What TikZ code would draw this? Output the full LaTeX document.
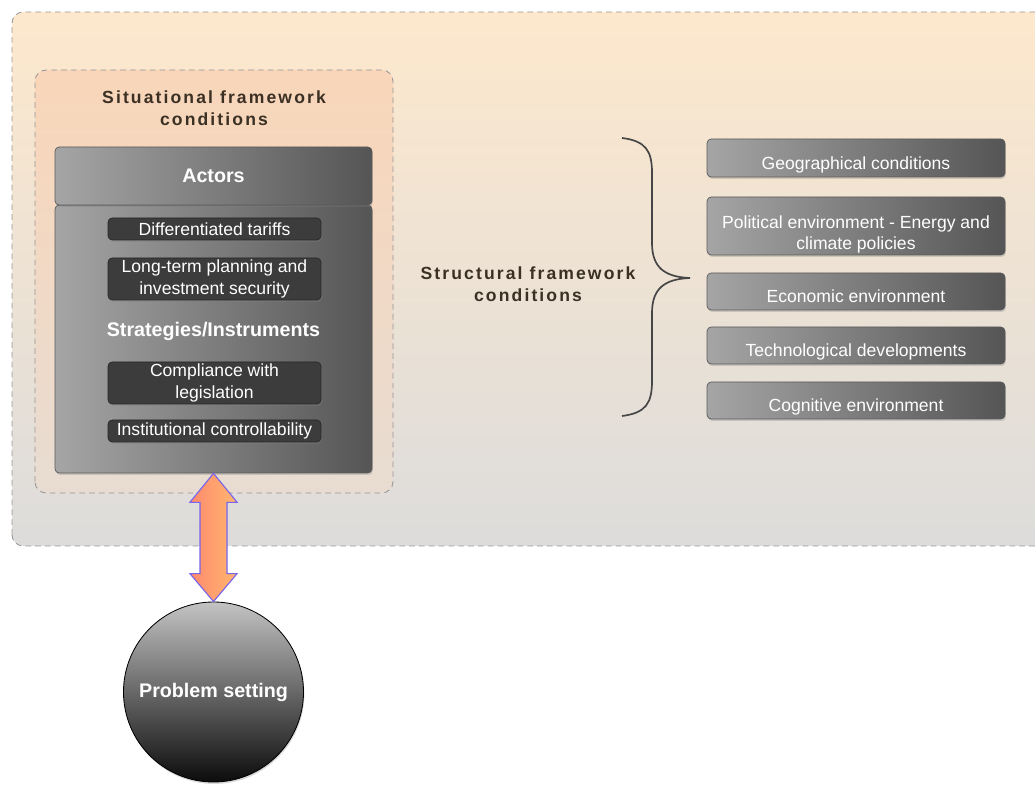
\documentclass[tikz,border=0pt]{standalone}
\usepackage{fontspec}
\setmainfont{Liberation Sans}
\newfontfamily\trackfont[LetterSpace=12]{Liberation Sans}
\usepackage{tikz}
\usetikzlibrary{positioning, calc, shadows}
\definecolor{bgtop}{RGB}{253,232,205}
\definecolor{bgbot}{RGB}{221,220,219}
\definecolor{sittop}{RGB}{249,214,185}
\definecolor{sitbot}{RGB}{232,220,210}
\definecolor{dashgrey}{RGB}{150,150,150}
\definecolor{titlebrown}{RGB}{58,48,36}
\definecolor{boxlight}{RGB}{165,165,165}
\definecolor{boxdark}{RGB}{85,85,85}
\definecolor{boxedge}{RGB}{90,90,90}
\definecolor{darkfill}{RGB}{60,60,60}
\definecolor{darkedge}{RGB}{40,40,40}
\definecolor{bracegrey}{RGB}{70,70,70}
\definecolor{arrowleft}{RGB}{255,138,110}
\definecolor{arrowright}{RGB}{255,182,112}
\definecolor{arrowedge}{RGB}{120,100,235}
\definecolor{circtop}{RGB}{195,195,195}
\definecolor{circbot}{RGB}{12,12,12}
\tikzset{
  greybox/.style={rectangle, draw=boxedge, left color=boxlight, right color=boxdark,
    rounded corners=3pt, text=white, align=center, inner sep=2pt,
    font=\fontsize{12.5}{15}\selectfont, line width=0.5pt,
    drop shadow={shadow xshift=0.6pt, shadow yshift=-1.4pt, opacity=0.3}},
  condbox/.style={greybox, minimum width=7.45cm, minimum height=0.925cm,
    text height=18pt, text depth=2pt},
  darkbox/.style={rectangle, draw=darkedge, fill=darkfill, minimum width=5.325cm,
    rounded corners=3pt, text=white, align=center, inner sep=1pt,
    font=\fontsize{12.5}{15}\selectfont, line width=0.5pt,
    drop shadow={shadow xshift=0.6pt, shadow yshift=-1.4pt, opacity=0.3}},
  frametitle/.style={font=\trackfont\bfseries\fontsize{12.5}{15.6}\selectfont,
    text=titlebrown, align=center},
  dashframe/.style={draw=dashgrey, dash pattern=on 4pt off 3pt, rounded corners=8pt,
    line width=0.6pt},
  dblarrow/.style={draw=arrowedge, left color=arrowleft, right color=arrowright,
    line width=0.8pt, line join=miter}
}

\begin{document}
\begin{tikzpicture}
  \useasboundingbox (0,0) rectangle (25.875,19.725);

  % Outer frame (runs off the right edge)
  \draw[dashframe, top color=bgtop, bottom color=bgbot] (0.3,6.075) rectangle (27,19.425);

  % Situational frame
  \draw[dashframe, top color=sittop, bottom color=sitbot] (0.875,7.4) rectangle (9.825,17.975);
  \node[frametitle] (sittitle) at (5.35,17.03) {Situational framework\\conditions};

  % Actors and strategies
  \node[greybox, minimum width=7.925cm, minimum height=6.7cm] (instr) at (5.3375,11.25) {};
  \node[greybox, minimum width=7.925cm, minimum height=1.45cm,
    font=\bfseries\fontsize{14}{16}\selectfont] (actors) at (5.3375,15.325) {Actors};

  \node[darkbox, minimum height=0.55cm] (tariffs) at (5.3625,14.0) {Differentiated tariffs};
  \node[darkbox, minimum height=1.05cm] (planning) at (5.3625,12.75) {Long-term planning and\\investment security};
  \node[text=white, font=\bfseries\fontsize{14}{16}\selectfont] (strat) at (5.3375,11.45) {Strategies/Instruments};
  \node[darkbox, minimum height=1.05cm] (comply) at (5.3625,10.15) {Compliance with\\legislation};
  \node[darkbox, minimum height=0.55cm] (control) at (5.3625,8.95) {Institutional controllability};

  % Structural conditions
  \node[frametitle] (structitle) at (13.2,12.63) {Structural framework\\conditions};
  \draw[bracegrey, line width=1.2pt]
    (15.55,16.275) .. controls (16.15,16.2) and (16.3,15.95) .. (16.3,15.4)
    -- (16.3,13.65) .. controls (16.3,13.05) and (16.6,12.8) .. (17.25,12.775)
    .. controls (16.6,12.75) and (16.3,12.5) .. (16.3,11.9)
    -- (16.3,10.2) .. controls (16.3,9.65) and (16.15,9.4) .. (15.55,9.325);

  \node[condbox, minimum height=0.95cm] (geo) at (21.4,15.775) {Geographical conditions};
  \node[condbox, minimum height=1.45cm, text height=35pt, text depth=2pt] (politics) at (21.4,14.075) {Political environment - Energy and\\climate policies};
  \node[condbox] (economy) at (21.4,12.4375) {Economic environment};
  \node[condbox] (techno) at (21.4,11.0875) {Technological developments};
  \node[condbox] (cognit) at (21.4,9.7125) {Cognitive environment};

  % Problem setting
  \node[circle, minimum size=4.5cm, draw=black, line width=0.6pt, top color=circtop,
    bottom color=circbot, text=white, font=\bfseries\fontsize{14}{16}\selectfont,
    drop shadow={shadow xshift=0.6pt, shadow yshift=-1.4pt, opacity=0.3}] (prob) at (5.3375,2.425) {Problem setting};

  % Double arrow
  \coordinate (ta) at (instr.south);
  \coordinate (tb) at (prob.north);
  \draw[dblarrow] (ta) -- ($(ta)+(0.59,-0.725)$) -- ($(ta)+(0.3375,-0.725)$)
    -- ($(tb)+(0.3375,0.7)$) -- ($(tb)+(0.59,0.7)$) -- (tb)
    -- ($(tb)+(-0.59,0.7)$) -- ($(tb)+(-0.3375,0.7)$)
    -- ($(ta)+(-0.3375,-0.725)$) -- ($(ta)+(-0.59,-0.725)$) -- cycle;
\end{tikzpicture}
\end{document}
